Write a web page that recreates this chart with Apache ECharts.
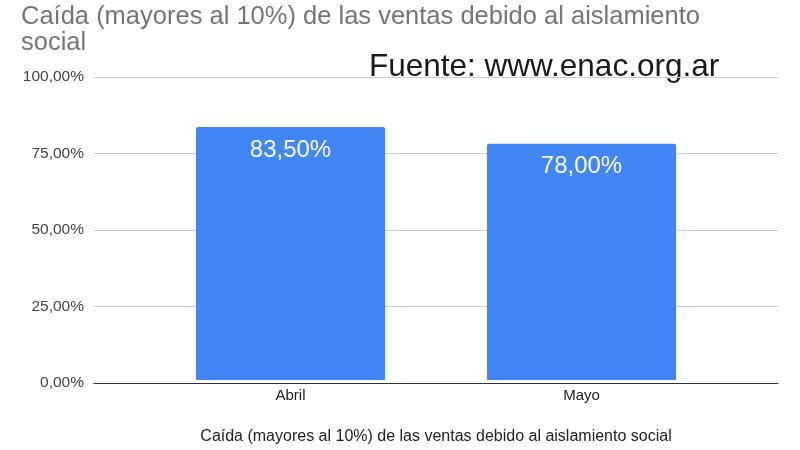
<!DOCTYPE html>
<html><head><meta charset="utf-8">
<script src="https://cdn.jsdelivr.net/npm/echarts@6/dist/echarts.min.js"></script>
<style>html,body{margin:0;padding:0;background:#fff}#c{width:800px;height:450px}</style>
</head><body><div id="c"></div>
<script>
const categories = ['Abril', 'Mayo'];
const values = [83.5, 78.0];
const yTicks = [0, 25, 50, 75, 100];
const titleText = 'Caída (mayores al 10%) de las ventas debido al aislamiento\nsocial';
const axisName = 'Caída (mayores al 10%) de las ventas debido al aislamiento social';
const sourceText = 'Fuente: www.enac.org.ar';

const fmt = v => v.toFixed(2).replace('.', ',') + '%';
const chart = echarts.init(document.getElementById('c'), null, {renderer: 'canvas'});
const font = 'Liberation Sans, Arial, sans-serif';
chart.setOption({
  animation: false,
  textStyle: {fontFamily: font},
  title: {
    text: titleText, left: 21, top: 4, padding: 0,
    textStyle: {color: '#757575', fontSize: 25.5, fontWeight: 'normal', lineHeight: 26, fontFamily: font}
  },
  graphic: [{
    type: 'text', left: 369, top: 51,
    style: {text: sourceText, fill: '#1a1a1a', fontSize: 31.5, fontFamily: font}
  }],
  grid: [
    {left: 94, right: 22, top: 77, bottom: 67},
    {left: 145, right: 73, top: 77, bottom: 67}
  ],
  xAxis: [
    {gridIndex: 0, type: 'category', data: categories, axisLine: {show: true, lineStyle: {color: '#333', width: 1}},
     axisTick: {show: false}, axisLabel: {show: false}, z: 5},
    {gridIndex: 1, type: 'category', data: categories, axisLine: {show: false}, axisTick: {show: false},
     axisLabel: {color: '#222', fontSize: 15, margin: 8},
     name: axisName, nameLocation: 'middle', nameGap: 49,
     nameTextStyle: {color: '#222', fontSize: 16}}
  ],
  yAxis: [
    {gridIndex: 0, type: 'value', min: yTicks[0], max: yTicks[yTicks.length - 1], interval: 25,
     axisLine: {show: false}, axisTick: {show: false},
     axisLabel: {color: '#444', fontSize: 15.5, margin: 10, formatter: fmt},
     splitLine: {lineStyle: {color: '#cccccc'}}},
    {gridIndex: 1, type: 'value', min: yTicks[0], max: yTicks[yTicks.length - 1], interval: 25,
     show: false, splitLine: {show: false}}
  ],
  series: [{
    type: 'bar', xAxisIndex: 1, yAxisIndex: 1, data: values, barWidth: '65%',
    itemStyle: {color: '#4285F4', borderRadius: [2, 2, 0, 0], borderWidth: 0},
    label: {show: true, position: 'insideTop', distance: 11, color: '#fff', fontSize: 24,
            fontFamily: font, formatter: p => fmt(p.value)}
  }]
});
</script></body></html>
